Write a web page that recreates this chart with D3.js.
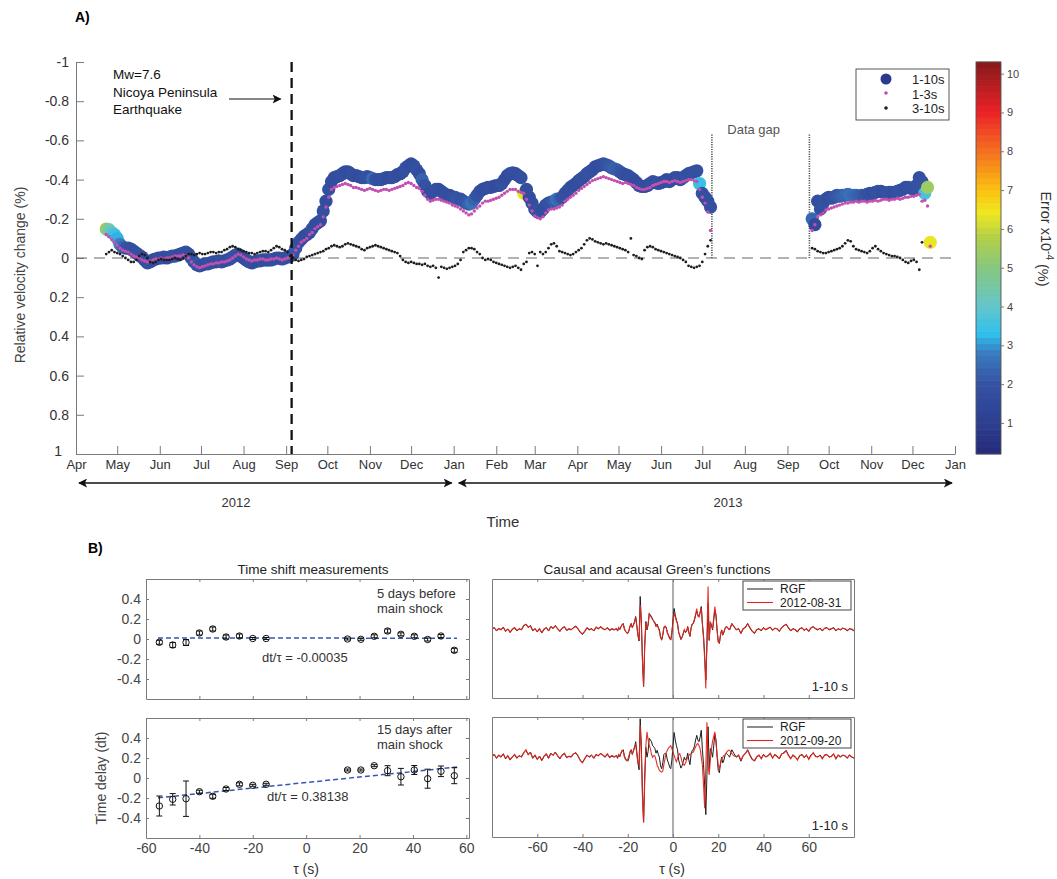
<!DOCTYPE html>
<html>
<head>
<meta charset="utf-8">
<script src="https://cdn.jsdelivr.net/npm/d3@7"></script>
<style>
  body { margin: 0; background: #fff; }
  svg { font-family: "Liberation Sans", Arial, Helvetica, sans-serif; }
</style>
</head>
<body>
<div id="chart"></div>
<script>
// ================= Panel A data =================
const axisStart = "2012-04-01", axisEnd = "2014-01-01";
const quakeDate = "2012-09-05";
const gapStart = "2013-07-08", gapEnd = "2013-09-17", gapTop = -0.63;
const velTicks = [-1, -0.8, -0.6, -0.4, -0.2, 0, 0.2, 0.4, 0.6, 0.8, 1];
const errTicks = [1, 2, 3, 4, 5, 6, 7, 8, 9, 10];
const errDomain = [0.2, 10.3];
const legendLabels = ["1-10s", "1-3s", "3-10s"];
const yearLabels = ["2012", "2013"];
const yearBounds = ["2012-04-01", "2013-01-01", "2014-01-01"];

// sampling: one value every 2 days in each segment
const stepDays = 2;
const seg1Start = "2012-04-23";
const seg2Start = "2013-09-19";

// 1-10 s band (segment 1)
const v110A = [
  -0.148,-0.145,-0.13,-0.12,-0.10,-0.07,-0.055,-0.05,-0.05,-0.045,
  -0.035,-0.025,-0.015,-0.005,0.01,0.025,0.02,0.01,0.005,0.0,
  0.0,-0.005,0.0,-0.005,-0.01,-0.01,-0.015,-0.02,-0.025,-0.03,
  -0.02,0.0,0.02,0.035,0.04,0.035,0.03,0.03,0.025,0.02,
  0.02,0.015,0.02,0.015,0.01,0.005,-0.005,-0.015,-0.02,-0.01,
  0.0,0.01,0.02,0.025,0.02,0.015,0.015,0.01,0.01,0.01,
  0.01,0.005,0.0,0.0,0.005,0.0,-0.005,-0.01,-0.02,-0.05,
  -0.08,-0.095,-0.11,-0.12,-0.13,-0.15,-0.17,-0.18,-0.19,-0.24,
  -0.29,-0.35,-0.39,-0.41,-0.415,-0.42,-0.43,-0.44,-0.44,-0.43,
  -0.42,-0.42,-0.415,-0.41,-0.41,-0.415,-0.41,-0.405,-0.40,-0.40,
  -0.40,-0.405,-0.41,-0.41,-0.41,-0.415,-0.425,-0.43,-0.44,-0.46,
  -0.47,-0.48,-0.47,-0.45,-0.43,-0.40,-0.37,-0.34,-0.33,-0.34,
  -0.35,-0.35,-0.34,-0.33,-0.32,-0.32,-0.31,-0.31,-0.30,-0.30,
  -0.29,-0.28,-0.275,-0.28,-0.30,-0.32,-0.34,-0.35,-0.355,-0.36,
  -0.36,-0.365,-0.37,-0.37,-0.38,-0.40,-0.42,-0.43,-0.435,-0.43,
  -0.42,-0.41,-0.33,-0.35,-0.31,-0.28,-0.25,-0.235,-0.235,-0.25,
  -0.27,-0.28,-0.285,-0.29,-0.30,-0.30,-0.31,-0.33,-0.345,-0.36,
  -0.37,-0.38,-0.395,-0.405,-0.415,-0.43,-0.44,-0.45,-0.465,-0.47,
  -0.475,-0.48,-0.475,-0.47,-0.46,-0.455,-0.45,-0.44,-0.43,-0.425,
  -0.42,-0.41,-0.40,-0.385,-0.37,-0.365,-0.365,-0.37,-0.38,-0.39,
  -0.385,-0.38,-0.385,-0.39,-0.40,-0.39,-0.40,-0.41,-0.41,-0.40,
  -0.41,-0.42,-0.43,-0.435,-0.44,-0.445,-0.38,-0.33,-0.31,-0.29,
  -0.26
];
const err110A = [
  5.3,4.6,3.9,3.5,3.2,2.8,2.4,2.1,2.0,1.9,
  1.8,1.9,2.0,1.8,1.7,1.9,2.0,1.8,1.7,1.8,
  1.9,1.8,1.7,1.8,1.9,2.0,1.8,1.7,1.8,1.9,
  1.8,1.9,2.0,2.1,1.9,1.8,1.7,1.8,1.9,1.8,
  1.7,1.8,1.9,1.8,1.7,1.8,1.9,2.0,1.9,1.8,
  1.8,1.7,1.8,1.9,1.8,1.7,1.8,1.9,1.8,1.7,
  1.8,1.9,1.8,1.7,1.8,1.9,1.8,1.9,2.0,2.1,
  2.0,1.9,1.8,1.7,1.8,1.9,1.8,1.7,1.8,1.9,
  1.8,1.9,1.8,1.7,1.8,1.8,1.9,1.8,1.7,1.8,
  1.9,1.8,1.7,1.8,1.9,2.0,1.9,2.5,2.0,1.9,
  1.8,1.9,1.8,1.7,1.8,1.9,1.8,1.7,1.8,1.9,
  1.8,1.7,1.8,1.9,1.8,2.3,2.0,1.9,1.8,1.8,
  1.9,1.8,1.7,1.8,1.9,1.8,1.9,2.0,2.1,2.0,
  2.0,2.1,2.3,2.6,2.3,2.0,1.9,1.8,1.7,1.8,
  1.9,1.8,1.7,1.8,1.9,1.8,1.7,1.8,1.9,1.8,
  1.8,1.9,6.3,1.8,1.7,1.8,1.9,2.0,1.9,1.8,
  1.8,1.9,2.0,2.2,2.6,2.3,2.0,1.9,1.8,1.9,
  1.8,1.7,1.8,1.9,1.8,1.9,2.0,1.9,1.8,1.7,
  1.8,1.9,2.0,2.1,2.2,2.3,2.2,2.1,2.0,1.9,
  1.8,1.9,1.8,1.7,1.8,1.9,1.8,1.7,1.8,1.9,
  1.8,1.9,1.8,1.7,1.8,1.9,1.8,1.7,1.8,1.9,
  1.8,1.9,1.8,1.9,2.0,1.9,3.4,2.0,1.9,1.8,
  1.9
];
// 1-3 s (segment 1)
const v13A = [
  -0.12,-0.11,-0.095,-0.08,-0.065,-0.05,-0.04,-0.035,-0.03,-0.02,
  -0.01,-0.005,0.0,0.01,0.015,0.02,0.015,0.01,0.005,0.005,
  0.0,0.005,0.0,0.0,-0.005,-0.01,-0.01,-0.01,-0.015,-0.01,
  0.0,0.02,0.035,0.045,0.05,0.045,0.04,0.035,0.03,0.03,
  0.025,0.025,0.02,0.02,0.015,0.01,0.0,-0.01,-0.02,-0.015,
  -0.005,0.005,0.01,0.015,0.01,0.01,0.005,0.005,0.01,0.01,
  0.005,0.005,0.0,0.005,0.01,0.005,0.0,-0.005,-0.015,-0.04,
  -0.06,-0.08,-0.09,-0.10,-0.12,-0.13,-0.15,-0.16,-0.17,-0.21,
  -0.26,-0.31,-0.35,-0.36,-0.365,-0.37,-0.375,-0.38,-0.375,-0.37,
  -0.36,-0.36,-0.355,-0.35,-0.345,-0.35,-0.355,-0.35,-0.345,-0.34,
  -0.345,-0.35,-0.35,-0.345,-0.35,-0.355,-0.36,-0.365,-0.37,-0.38,
  -0.385,-0.38,-0.37,-0.36,-0.355,-0.34,-0.32,-0.30,-0.29,-0.295,
  -0.30,-0.30,-0.295,-0.29,-0.285,-0.28,-0.27,-0.265,-0.26,-0.25,
  -0.24,-0.23,-0.22,-0.225,-0.24,-0.255,-0.265,-0.28,-0.29,-0.29,
  -0.295,-0.30,-0.305,-0.31,-0.32,-0.33,-0.34,-0.35,-0.35,-0.35,
  -0.34,-0.335,-0.33,-0.30,-0.27,-0.24,-0.215,-0.205,-0.20,-0.21,
  -0.23,-0.245,-0.25,-0.25,-0.255,-0.26,-0.27,-0.29,-0.30,-0.31,
  -0.32,-0.33,-0.345,-0.355,-0.365,-0.375,-0.385,-0.395,-0.40,-0.405,
  -0.41,-0.415,-0.41,-0.405,-0.40,-0.395,-0.39,-0.385,-0.38,-0.385,
  -0.38,-0.375,-0.37,-0.36,-0.355,-0.35,-0.35,-0.355,-0.36,-0.37,
  -0.375,-0.38,-0.385,-0.39,-0.39,-0.385,-0.39,-0.395,-0.39,-0.385,
  -0.39,-0.395,-0.40,-0.40,-0.395,-0.39,-0.35,-0.31,-0.28,-0.235,
  -0.14
];
// 3-10 s (segment 1)
const v310A = [
  -0.02,-0.03,-0.04,-0.03,-0.025,-0.02,-0.01,0.0,0.01,0.02,
  0.02,0.01,-0.01,-0.02,-0.015,0.0,0.02,0.025,0.02,0.01,
  0.005,0.01,0.01,0.01,0.005,0.0,0.005,0.01,0.0,-0.01,
  -0.02,-0.02,-0.015,-0.02,-0.025,-0.02,-0.02,-0.025,-0.03,-0.03,
  -0.025,-0.03,-0.03,-0.04,-0.045,-0.055,-0.06,-0.055,-0.045,-0.04,
  -0.035,-0.03,-0.025,-0.025,-0.02,-0.025,-0.03,-0.035,-0.035,-0.03,
  -0.04,-0.05,-0.06,-0.055,-0.045,-0.04,-0.03,-0.01,0.0,0.01,
  0.015,0.01,0.005,-0.005,-0.01,-0.015,-0.02,-0.025,-0.03,-0.035,
  -0.045,-0.05,-0.06,-0.065,-0.06,-0.055,-0.06,-0.07,-0.075,-0.07,
  -0.065,-0.06,-0.055,-0.045,-0.04,-0.05,-0.055,-0.06,-0.065,-0.06,
  -0.055,-0.05,-0.045,-0.04,-0.035,-0.03,-0.025,-0.01,0.01,0.02,
  0.025,0.02,0.025,0.03,0.03,0.035,0.03,0.04,0.045,0.04,
  0.05,0.10,0.045,0.05,0.055,0.05,0.045,0.04,0.03,0.01,
  -0.03,-0.04,-0.05,-0.05,-0.045,-0.03,-0.02,0.0,0.01,0.005,
  0.01,0.02,0.025,0.03,0.035,0.04,0.045,0.05,0.045,0.04,
  0.05,0.06,0.03,0.02,-0.025,-0.03,-0.02,0.04,-0.03,-0.02,
  -0.03,-0.05,-0.07,-0.075,-0.06,-0.035,-0.03,-0.025,-0.02,-0.015,
  -0.02,-0.03,-0.04,-0.05,-0.07,-0.09,-0.10,-0.095,-0.085,-0.08,
  -0.075,-0.07,-0.075,-0.07,-0.065,-0.06,-0.055,-0.05,-0.045,-0.04,
  -0.03,-0.10,-0.015,-0.01,0.0,0.005,-0.04,-0.055,-0.06,-0.055,
  -0.045,-0.04,-0.035,-0.03,-0.025,-0.02,-0.015,-0.01,-0.005,0.0,
  0.01,0.02,0.04,0.045,0.05,0.045,0.04,0.02,-0.02,-0.06,
  -0.09
];
// segment 2 (after the data gap)
const v110B = [
  -0.20,-0.17,-0.29,-0.25,-0.28,-0.30,-0.31,-0.305,-0.31,-0.32,
  -0.315,-0.32,-0.32,-0.325,-0.32,-0.32,-0.32,-0.315,-0.32,-0.32,
  -0.325,-0.33,-0.33,-0.335,-0.34,-0.34,-0.335,-0.33,-0.335,-0.335,
  -0.335,-0.34,-0.345,-0.35,-0.36,-0.36,-0.355,-0.35,-0.37,-0.41,
  -0.39,-0.33,-0.36,-0.08
];
const err110B = [
  2.4,1.6,1.8,1.9,2.0,1.9,1.8,1.9,2.0,2.1,
  2.2,2.3,2.4,2.5,2.6,2.5,2.4,2.3,2.2,2.1,
  2.0,1.9,1.8,1.9,2.0,1.9,1.8,1.9,2.0,1.9,
  1.8,1.9,2.0,1.9,1.8,1.9,2.0,1.9,2.0,1.9,
  2.0,3.6,5.4,6.35
];
const v13B = [
  -0.14,-0.17,-0.21,-0.22,-0.23,-0.245,-0.25,-0.255,-0.26,-0.265,
  -0.27,-0.275,-0.28,-0.28,-0.285,-0.285,-0.29,-0.285,-0.29,-0.29,
  -0.285,-0.29,-0.29,-0.295,-0.29,-0.295,-0.30,-0.30,-0.295,-0.30,
  -0.30,-0.305,-0.30,-0.305,-0.31,-0.31,-0.315,-0.315,-0.32,-0.325,
  -0.29,-0.295,-0.265,-0.06
];
const v310B = [
  -0.05,-0.045,-0.035,-0.03,-0.025,-0.025,-0.03,-0.035,-0.04,-0.045,
  -0.05,-0.06,-0.075,-0.09,-0.085,-0.06,-0.045,-0.04,-0.035,-0.03,
  -0.025,-0.035,-0.05,-0.06,-0.045,-0.035,-0.025,-0.02,-0.015,-0.01,
  -0.01,-0.005,0.0,0.01,0.02,0.025,0.015,0.01,0.02,0.06,
  -0.08,null,null,null
];

// error colour map stops (x10^-4 %)
const errStops  = [0.2, 1.0, 2.0, 2.8, 3.3, 4.0, 5.0, 5.8, 6.4, 7.0, 8.0, 9.0, 10.3];
const errColors = ["#26297a","#2d3f91","#3552a2","#3a7cc0","#2fc0ec","#64c6cb","#86c77f",
                   "#b4d046","#eee821","#fbc10f","#f37021","#ec2227","#861a1c"];

// ================= Panel B data =================
const tauShift = [-55,-50,-45,-40,-35,-30,-25,-20,-15,15.5,20.5,25.5,30.5,35.5,40.5,45.5,50.5,55.5];
const dtBefore = [-0.033,-0.06,-0.035,0.06,0.10,0.02,0.03,0.005,0.005,0.0,-0.003,0.027,0.08,0.047,0.027,-0.005,0.03,-0.113];
const errBefore = [0.02,0.025,0.03,0.02,0.02,0.02,0.02,0.01,0.01,0.01,0.01,0.015,0.02,0.015,0.015,0.015,0.015,0.02];
const dtAfter = [-0.28,-0.213,-0.207,-0.137,-0.183,-0.11,-0.063,-0.073,-0.063,0.08,0.08,0.123,0.073,0.013,0.08,-0.007,0.067,0.023];
const errAfter = [0.10,0.057,0.177,0.015,0.02,0.015,0.015,0.01,0.01,0.01,0.01,0.01,0.05,0.083,0.045,0.095,0.053,0.08];
const fitTau = [-55.5, 56.5];
const fitBefore = [0.01, 0.008];
const fitAfter = [-0.198, 0.11];
const shiftYTicks = [-0.4, -0.2, 0, 0.2, 0.4];
const shiftXTicks = [-60, -40, -20, 0, 20, 40, 60];
const gfXTicks = [-60, -40, -20, 0, 20, 40, 60];

// Green's function sample times: 1 s on the flanks, 0.5 s in the centre
const gfTau = [...d3.range(-80, -25, 1), ...d3.range(-25, 25, 0.5), ...d3.range(25, 81, 1)];

const rgf = [
  0.02,0.05,-0.02,0.03,0.0,0.06,-0.03,0.02,-0.05,0.01,
  0.04,-0.02,0.03,0.0,0.08,0.12,0.05,0.09,-0.02,0.03,
  -0.04,0.02,-0.06,0.01,0.05,-0.02,0.07,0.03,0.09,0.02,
  -0.03,0.04,0.06,-0.01,0.02,0.0,0.05,0.08,0.02,-0.05,
  -0.09,-0.03,0.04,0.0,0.03,-0.02,0.05,0.02,0.07,0.03,
  0.0,0.05,-0.01,0.02,0.0,
  0.03,-0.02,0.04,0.01,0.07,0.10,0.13,0.03,-0.03,-0.05,
  -0.07,-0.02,0.08,0.13,0.05,0.10,0.17,0.27,0.10,-0.10,
  -0.22,0.67,0.20,-0.60,-1.13,-0.33,0.17,0.0,0.10,0.33,
  0.30,0.27,0.20,0.18,0.15,0.07,0.12,0.05,0.0,-0.15,
  -0.20,-0.10,0.05,0.07,0.06,-0.05,-0.10,-0.17,-0.20,-0.05,
  0.20,0.43,0.30,0.20,0.13,-0.05,-0.12,-0.19,-0.15,-0.08,
  0.0,-0.05,-0.03,0.07,-0.05,-0.13,0.05,0.12,0.13,0.20,
  0.30,0.38,0.30,0.27,0.35,0.47,0.13,-0.13,-0.50,-1.00,
  -0.30,0.53,-0.20,0.15,0.10,0.0,0.20,0.40,0.30,0.0,
  -0.23,-0.27,-0.10,0.0,-0.10,-0.05,0.03,0.07,0.05,0.03,
  0.0,0.13,0.06,0.0,0.03,-0.07,0.02,0.06,0.13,0.04,
  -0.03,-0.07,0.0,0.03,-0.02,0.05,0.0,0.03,0.06,-0.01,
  0.04,0.02,-0.03,0.05,0.08,0.12,0.04,-0.02,0.03,0.0,
  -0.04,0.02,0.05,-0.01,0.03,-0.03,0.04,0.07,0.02,0.0,
  0.04,-0.02,0.03,0.05,0.0,0.02,0.05,-0.02,0.03,0.0,
  0.04,0.02,-0.02,0.03,0.01,-0.02
];
const gf0831 = [
  0.03,0.04,-0.01,0.03,0.01,0.05,-0.02,0.02,-0.04,0.02,
  0.05,-0.01,0.02,0.01,0.09,0.11,0.06,0.08,-0.01,0.02,
  -0.03,0.03,-0.05,0.02,0.04,-0.01,0.06,0.04,0.08,0.03,
  -0.02,0.03,0.07,0.0,0.03,0.01,0.04,0.07,0.03,-0.04,
  -0.08,-0.02,0.05,0.01,0.02,-0.01,0.06,0.03,0.06,0.02,
  0.01,0.04,0.0,0.03,0.01,
  0.02,-0.01,0.05,0.02,0.06,0.11,0.12,0.02,-0.02,-0.06,
  -0.06,-0.01,0.07,0.12,0.06,0.09,0.16,0.25,0.08,-0.12,
  -0.20,0.50,0.15,-0.62,-1.12,-0.30,0.15,0.02,0.12,0.32,
  0.28,0.25,0.22,0.17,0.13,0.08,0.10,0.04,-0.02,-0.14,
  -0.19,-0.08,0.06,0.08,0.04,-0.06,-0.11,-0.16,-0.19,-0.06,
  0.17,0.33,0.27,0.18,0.12,-0.04,-0.11,-0.18,-0.14,-0.07,
  0.01,-0.04,-0.02,0.06,-0.04,-0.12,0.04,0.11,0.14,0.22,
  0.32,0.43,0.28,0.26,0.36,0.45,0.10,-0.15,-0.60,-1.17,
  -0.20,0.87,-0.22,0.17,0.08,0.02,0.25,0.47,0.28,-0.02,
  -0.24,-0.26,-0.09,0.01,-0.09,-0.04,0.04,0.06,0.06,0.02,
  0.01,0.12,0.07,0.01,0.02,-0.06,0.03,0.05,0.12,0.05,
  -0.02,-0.06,0.01,0.02,-0.01,0.04,0.01,0.04,0.05,0.0,
  0.03,0.03,-0.02,0.04,0.09,0.11,0.05,-0.01,0.02,0.01,
  -0.03,0.03,0.04,0.0,0.02,-0.02,0.05,0.06,0.03,0.01,
  0.03,-0.01,0.04,0.04,0.01,0.03,0.04,-0.01,0.02,0.01,
  0.03,0.03,-0.01,0.02,0.02,-0.01
];
const gf0920 = [
  0.01,0.04,-0.01,0.04,0.01,0.05,-0.02,0.03,-0.04,0.0,
  0.05,-0.01,0.02,0.01,0.07,0.13,0.04,0.08,-0.01,0.04,
  -0.03,0.01,-0.05,0.02,0.06,-0.01,0.06,0.04,0.08,0.03,
  -0.02,0.03,0.07,0.0,0.01,0.01,0.06,0.07,0.03,-0.06,
  -0.10,-0.02,0.03,0.01,0.04,-0.01,0.04,0.03,0.06,0.04,
  0.01,0.06,0.0,0.03,0.01,
  0.02,0.0,0.05,0.02,0.08,0.12,0.10,0.0,-0.04,-0.06,
  -0.04,0.02,0.10,0.12,0.06,0.12,0.18,0.22,0.05,-0.10,
  -0.14,0.56,0.05,-0.70,-1.14,-0.43,0.20,0.44,0.30,0.21,
  0.15,0.05,0.0,0.03,0.02,-0.05,-0.14,-0.18,-0.23,-0.25,
  -0.26,-0.24,-0.12,-0.02,0.08,0.12,0.16,0.18,0.20,0.15,
  0.09,0.03,-0.03,-0.08,-0.02,0.04,0.06,0.0,-0.08,-0.12,
  -0.14,-0.10,-0.05,0.0,0.03,0.05,0.06,0.08,0.09,0.14,
  0.18,0.22,0.24,0.20,0.15,0.0,-0.14,-0.50,-0.89,-0.20,
  0.61,-0.14,-0.31,-0.05,0.15,0.28,0.36,0.44,0.25,0.05,
  -0.14,-0.20,-0.12,-0.03,0.0,0.03,0.04,0.07,0.10,0.12,
  0.12,0.06,0.02,0.01,0.04,-0.05,0.03,0.07,0.12,0.03,
  -0.04,-0.06,0.01,0.04,-0.03,0.04,0.01,0.02,0.07,-0.02,
  0.05,0.01,-0.02,0.06,0.07,0.11,0.03,-0.03,0.04,0.01,
  -0.05,0.03,0.04,0.0,0.04,-0.04,0.03,0.08,0.01,0.01,
  0.03,-0.03,0.04,0.04,0.01,0.01,0.06,-0.03,0.04,0.01,
  0.03,0.03,-0.01,0.04,0.0,-0.01
];

// ================= drawing =================
const W = 1057, H = 879;
const svg = d3.select("#chart").append("svg").attr("width", W).attr("height", H);
const defs = svg.append("defs");
const parseDay = d3.utcParse("%Y-%m-%d");

// arrow head used by the annotation and the year spans
defs.append("marker")
    .attr("id", "arrowHead")
    .attr("viewBox", "0 0 10 10")
    .attr("refX", 9).attr("refY", 5)
    .attr("markerWidth", 9).attr("markerHeight", 9)
    .attr("markerUnits", "userSpaceOnUse")
    .attr("orient", "auto-start-reverse")
  .append("path")
    .attr("d", "M0,0 L10,5 L0,10 L2.5,5 Z")
    .attr("fill", "#111");

function buildSegment(start, v110, err110, v13, v310) {
    let t0 = parseDay(start);
    return v110.map((v, i) => ({
        date: d3.utcDay.offset(t0, i * stepDays),
        v110: v, err: err110[i], v13: v13[i], v310: v310[i]
    }));
}
const rows = buildSegment(seg1Start, v110A, err110A, v13A, v310A)
    .concat(buildSegment(seg2Start, v110B, err110B, v13B, v310B));

// scales for panel A
const xA = d3.scaleUtc().domain([parseDay(axisStart), parseDay(axisEnd)]).range([76, 955]);
const yA = d3.scaleLinear().domain([-1, 1]).range([62, 454]);
const errColor = d3.scaleLinear().domain(errStops).range(errColors).clamp(true);

function styleAxis(g, size) {
    g.selectAll(".domain").attr("stroke", "#7a7a7a");
    g.selectAll(".tick line").attr("stroke", "#7a7a7a");
    g.selectAll(".tick text").attr("fill", "#333").style("font-size", size + "px")
        .style("font-family", '"Liberation Sans", Arial, sans-serif');
}

const gA = svg.append("g");

gA.append("text").attr("x", 75).attr("y", 22).text("A)")
    .style("font-weight", "bold").style("font-size", "14px");

// axes
gA.append("g").attr("transform", "translate(76,0)")
    .call(d3.axisLeft(yA).tickValues(velTicks).tickFormat(d => String(d))
        .tickSizeInner(-8).tickSizeOuter(0).tickPadding(7))
    .call(g => styleAxis(g, 14))
    .call(g => g.selectAll(".tick text").filter(d => d === 1).attr("x", -14).attr("dy", "0.1em"));

gA.append("g").attr("transform", "translate(0,454)")
    .call(d3.axisBottom(xA).ticks(d3.utcMonth.every(1)).tickFormat(d3.utcFormat("%b"))
        .tickSizeInner(-8).tickSizeOuter(0).tickPadding(6))
    .call(g => styleAxis(g, 13));

gA.append("text")
    .attr("transform", "translate(20,275) rotate(-90)")
    .attr("text-anchor", "middle").attr("dy", "0.35em")
    .attr("fill", "#444").style("font-size", "14px")
    .text("Relative velocity change (%)");

// zero reference
gA.append("line")
    .attr("x1", 76).attr("x2", 955).attr("y1", yA(0)).attr("y2", yA(0))
    .attr("stroke", "#666").attr("stroke-width", 1.2).attr("stroke-dasharray", "11,7");

// data gap markers
[gapStart, gapEnd].forEach(d => {
    gA.append("line")
        .attr("x1", xA(parseDay(d))).attr("x2", xA(parseDay(d)))
        .attr("y1", yA(gapTop)).attr("y2", yA(0))
        .attr("stroke", "#555").attr("stroke-width", 1.6).attr("stroke-dasharray", "1.2,1.2");
});
gA.append("text")
    .attr("x", (xA(parseDay(gapStart)) + xA(parseDay(gapEnd))) / 2 - 7).attr("y", 134)
    .attr("text-anchor", "middle").attr("fill", "#555").style("font-size", "13px")
    .text("Data gap");

// 1-10 s circles coloured by error
gA.append("g").selectAll("circle")
    .data(rows.filter(d => d.v110 != null))
    .join("circle")
    .attr("cx", d => xA(d.date))
    .attr("cy", d => yA(d.v110))
    .attr("r", 6.6)
    .attr("fill", d => errColor(d.err));

// 1-3 s dots
gA.append("g").selectAll("circle")
    .data(rows.filter(d => d.v13 != null))
    .join("circle")
    .attr("cx", d => xA(d.date))
    .attr("cy", d => yA(d.v13))
    .attr("r", 1.7)
    .attr("fill", "#c54fb1");

// 3-10 s dots
gA.append("g").selectAll("circle")
    .data(rows.filter(d => d.v310 != null))
    .join("circle")
    .attr("cx", d => xA(d.date))
    .attr("cy", d => yA(d.v310))
    .attr("r", 1.4)
    .attr("fill", "#1e1e1e");

// earthquake line
const xq = xA(parseDay(quakeDate));
gA.append("line")
    .attr("x1", xq).attr("x2", xq).attr("y1", 62).attr("y2", 454)
    .attr("stroke", "#111").attr("stroke-width", 2.3).attr("stroke-dasharray", "10,6");

// annotation
const noteLines = ["Mw=7.6", "Nicoya Peninsula", "Earthquake"];
gA.append("text").attr("x", 113).attr("y", 79).style("font-size", "13.5px").attr("fill", "#111")
    .selectAll("tspan").data(noteLines).join("tspan")
    .attr("x", 113).attr("dy", (d, i) => i ? 17.5 : 0).text(d => d);
gA.append("line")
    .attr("x1", 229).attr("x2", xq - 11).attr("y1", 99).attr("y2", 99)
    .attr("stroke", "#111").attr("stroke-width", 1.1)
    .attr("marker-end", "url(#arrowHead)");

// legend
const leg = gA.append("g");
leg.append("rect").attr("x", 856).attr("y", 69).attr("width", 93).attr("height", 51)
    .attr("fill", "#fff").attr("stroke", "#444").attr("stroke-width", 0.9);
leg.append("circle").attr("cx", 886).attr("cy", 79).attr("r", 5.5).attr("fill", "#2a3a8e");
leg.append("circle").attr("cx", 886).attr("cy", 93).attr("r", 1.8).attr("fill", "#c54fb1");
leg.append("circle").attr("cx", 886).attr("cy", 108).attr("r", 1.8).attr("fill", "#1e1e1e");
leg.selectAll("text.lg").data(legendLabels).join("text").attr("class", "lg")
    .attr("x", 912).attr("y", (d, i) => 84 + i * 14.5)
    .style("font-size", "13px").attr("fill", "#222").text(d => d);

// colour bar
const cbY = d3.scaleLinear().domain(errDomain).range([454, 62]);
const nBands = 64;
const bandVals = d3.range(nBands).map(i => errDomain[0] + (i + 0.5) * (errDomain[1] - errDomain[0]) / nBands);
const bandH = (454 - 62) / nBands;
gA.append("g").selectAll("rect").data(bandVals).join("rect")
    .attr("x", 976).attr("width", 25)
    .attr("y", d => cbY(d) - bandH / 2 - 0.3).attr("height", bandH + 0.6)
    .attr("fill", d => errColor(d));
gA.append("rect").attr("x", 976).attr("y", 62).attr("width", 25).attr("height", 392)
    .attr("fill", "none").attr("stroke", "#555").attr("stroke-width", 0.9);
gA.append("g").attr("transform", "translate(1001,0)")
    .call(d3.axisRight(cbY).tickValues(errTicks).tickSizeInner(3).tickSizeOuter(0).tickPadding(3))
    .call(g => { styleAxis(g, 11); g.select(".domain").remove(); g.selectAll(".tick text").attr("fill", "#444"); });
const cbLabel = gA.append("text")
    .attr("transform", "translate(1046,239) rotate(90)")
    .attr("text-anchor", "middle").attr("dy", "0.35em")
    .attr("fill", "#333").style("font-size", "14.5px");
cbLabel.append("tspan").text("Error x10");
cbLabel.append("tspan").attr("dy", "-0.55em").style("font-size", "10px").text("-4");
cbLabel.append("tspan").attr("dy", "0.55em").text(" (%)");

// year spans
yearLabels.forEach((lab, i) => {
    let xa = xA(parseDay(yearBounds[i])) + (i ? 5 : 3);
    let xb = xA(parseDay(yearBounds[i + 1])) - (i ? 3 : 2);
    gA.append("line").attr("x1", xa).attr("x2", xb).attr("y1", 483).attr("y2", 483)
        .attr("stroke", "#111").attr("stroke-width", 1.6)
        .attr("marker-start", "url(#arrowHead)").attr("marker-end", "url(#arrowHead)");
    gA.append("text").attr("x", i ? 728 : 236).attr("y", 507)
        .attr("text-anchor", "middle").attr("fill", "#333").style("font-size", "13px").text(lab);
});
gA.append("text").attr("x", 503).attr("y", 527).attr("text-anchor", "middle")
    .attr("fill", "#333").style("font-size", "15px").text("Time");

// ================= Panel B =================
const gB = svg.append("g");
gB.append("text").attr("x", 88).attr("y", 553).text("B)")
    .style("font-weight", "bold").style("font-size", "14px");

// boxed axes with inward ticks on all sides
function frame(g, x, y, opts) {
    let [x0, x1] = x.range(), [yb, yt] = y.range();
    let fx = opts.xLabels ? (d => String(d)) : "";
    g.append("g").attr("transform", `translate(0,${yb})`)
        .call(d3.axisBottom(x).tickValues(opts.xTicks).tickSizeInner(-3).tickSizeOuter(0).tickPadding(5).tickFormat(fx))
        .call(a => styleAxis(a, 14));
    g.append("g").attr("transform", `translate(0,${yt})`)
        .call(d3.axisTop(x).tickValues(opts.xTicks).tickSizeInner(-3).tickSizeOuter(0).tickFormat(""))
        .call(a => styleAxis(a, 14));
    g.append("g").attr("transform", `translate(${x0},0)`)
        .call(d3.axisLeft(y).tickValues(opts.yTicks).tickSizeInner(-3).tickSizeOuter(0).tickPadding(5).tickFormat(d => String(d)))
        .call(a => styleAxis(a, 14));
    g.append("g").attr("transform", `translate(${x1},0)`)
        .call(d3.axisRight(y).tickValues(opts.yTicks).tickSizeInner(-3).tickSizeOuter(0).tickFormat(""))
        .call(a => styleAxis(a, 14));
    g.selectAll(".tick text").attr("fill", "#444");
}

const xS = d3.scaleLinear().domain([-60, 61]).range([146, 469]);
const yS1 = d3.scaleLinear().domain([-0.6, 0.6]).range([699, 579]);
const yS2 = d3.scaleLinear().domain([-0.6, 0.6]).range([838, 718]);

function shiftPanel(y, dt, err, fit, showX) {
    let g = gB.append("g");
    frame(g, xS, y, { xTicks: shiftXTicks, yTicks: shiftYTicks, xLabels: showX });
    // fit line
    g.append("line")
        .attr("x1", xS(fitTau[0])).attr("x2", xS(fitTau[1]))
        .attr("y1", y(fit[0])).attr("y2", y(fit[1]))
        .attr("stroke", "#3656b4").attr("stroke-width", 1.5).attr("stroke-dasharray", "5,3");
    let pts = tauShift.map((t, i) => ({ t: t, dt: dt[i], e: err[i] }));
    let eb = g.append("g").selectAll("g").data(pts).join("g");
    eb.append("line")
        .attr("x1", d => xS(d.t)).attr("x2", d => xS(d.t))
        .attr("y1", d => y(d.dt - d.e)).attr("y2", d => y(d.dt + d.e))
        .attr("stroke", "#111").attr("stroke-width", 1);
    [-1, 1].forEach(s => {
        eb.append("line")
            .attr("x1", d => xS(d.t) - 3).attr("x2", d => xS(d.t) + 3)
            .attr("y1", d => y(d.dt + s * d.e)).attr("y2", d => y(d.dt + s * d.e))
            .attr("stroke", "#111").attr("stroke-width", 1);
    });
    eb.append("circle")
        .attr("cx", d => xS(d.t)).attr("cy", d => y(d.dt)).attr("r", 3.2)
        .attr("fill", "none").attr("stroke", "#111").attr("stroke-width", 1);
    return g;
}

const p1 = shiftPanel(yS1, dtBefore, errBefore, fitBefore, false);
const p2 = shiftPanel(yS2, dtAfter, errAfter, fitAfter, true);

gB.append("text").attr("x", 313).attr("y", 574).attr("text-anchor", "middle")
    .attr("fill", "#222").style("font-size", "13.5px").text("Time shift measurements");
function twoLines(x, y, lines) {
    gB.append("text").attr("x", x).attr("y", y).attr("fill", "#333").style("font-size", "13px")
        .selectAll("tspan").data(lines).join("tspan")
        .attr("x", x).attr("dy", (d, i) => i ? 15 : 0).text(d => d);
}
twoLines(377, 598, ["5 days before", "main shock"]);
twoLines(377, 734, ["15 days after", "main shock"]);
gB.append("text").attr("x", 262).attr("y", 662).attr("fill", "#333").style("font-size", "13px")
    .text("dt/\u03c4 = -0.00035");
gB.append("text").attr("x", 267).attr("y", 801).attr("fill", "#333").style("font-size", "13px")
    .text("dt/\u03c4 = 0.38138");
gB.append("text")
    .attr("transform", "translate(101,778) rotate(-90)")
    .attr("text-anchor", "middle").attr("dy", "0.35em")
    .attr("fill", "#444").style("font-size", "14px").text("Time delay (dt)");
gB.append("text").attr("x", 306).attr("y", 874).attr("text-anchor", "middle")
    .attr("fill", "#333").style("font-size", "14px").text("\u03c4 (s)");

// Green's functions
const xG = d3.scaleLinear().domain([-80, 80]).range([492, 854]);
const yG1 = d3.scaleLinear().domain([-1.36, 1.02]).range([698, 579]);
const yG2 = d3.scaleLinear().domain([-1.39, 0.70]).range([837, 717]);

function gfPanel(y, red, redLabel, showX, clipId) {
    let g = gB.append("g");
    let [yb, yt] = y.range();
    defs.append("clipPath").attr("id", clipId).append("rect")
        .attr("x", 492).attr("y", yt).attr("width", 362).attr("height", yb - yt);
    g.append("line").attr("x1", xG(0)).attr("x2", xG(0)).attr("y1", yt).attr("y2", yb)
        .attr("stroke", "#9a9a9a").attr("stroke-width", 1.6);
    let line = d3.line().x((d, i) => xG(gfTau[i])).y(d => y(d));
    let lines = g.append("g").attr("clip-path", `url(#${clipId})`);
    lines.append("path").datum(rgf).attr("d", line)
        .attr("fill", "none").attr("stroke", "#1c1c1c").attr("stroke-width", 1);
    lines.append("path").datum(red).attr("d", line)
        .attr("fill", "none").attr("stroke", "#e3261c").attr("stroke-width", 1.1).attr("stroke-opacity", 0.95);
    frame(g, xG, y, { xTicks: gfXTicks, yTicks: [], xLabels: showX });
    // legend
    let ly = yt + 2;
    g.append("rect").attr("x", 743).attr("y", ly).attr("width", 108).attr("height", 29)
        .attr("fill", "#fff").attr("stroke", "#444").attr("stroke-width", 1);
    g.append("line").attr("x1", 747).attr("x2", 773).attr("y1", ly + 8).attr("y2", ly + 8)
        .attr("stroke", "#1c1c1c").attr("stroke-width", 1);
    g.append("line").attr("x1", 747).attr("x2", 773).attr("y1", ly + 21.5).attr("y2", ly + 21.5)
        .attr("stroke", "#e3261c").attr("stroke-width", 1.1);
    g.append("text").attr("x", 780).attr("y", ly + 12).attr("fill", "#222")
        .style("font-size", "12px").text("RGF");
    g.append("text").attr("x", 780).attr("y", ly + 25.5).attr("fill", "#222")
        .style("font-size", "12px").text(redLabel);
    g.append("text").attr("x", 848).attr("y", yb - 7).attr("text-anchor", "end").attr("fill", "#222")
        .style("font-size", "13px").text("1-10 s");
    return g;
}

gfPanel(yG1, gf0831, "2012-08-31", false, "clipG1");
gfPanel(yG2, gf0920, "2012-09-20", true, "clipG2");

gB.append("text").attr("x", 657).attr("y", 574).attr("text-anchor", "middle")
    .attr("fill", "#222").style("font-size", "13.5px").text("Causal and acausal Green\u2019s functions");
gB.append("text").attr("x", 672).attr("y", 874).attr("text-anchor", "middle")
    .attr("fill", "#333").style("font-size", "14px").text("\u03c4 (s)");
</script>
</body>
</html>
